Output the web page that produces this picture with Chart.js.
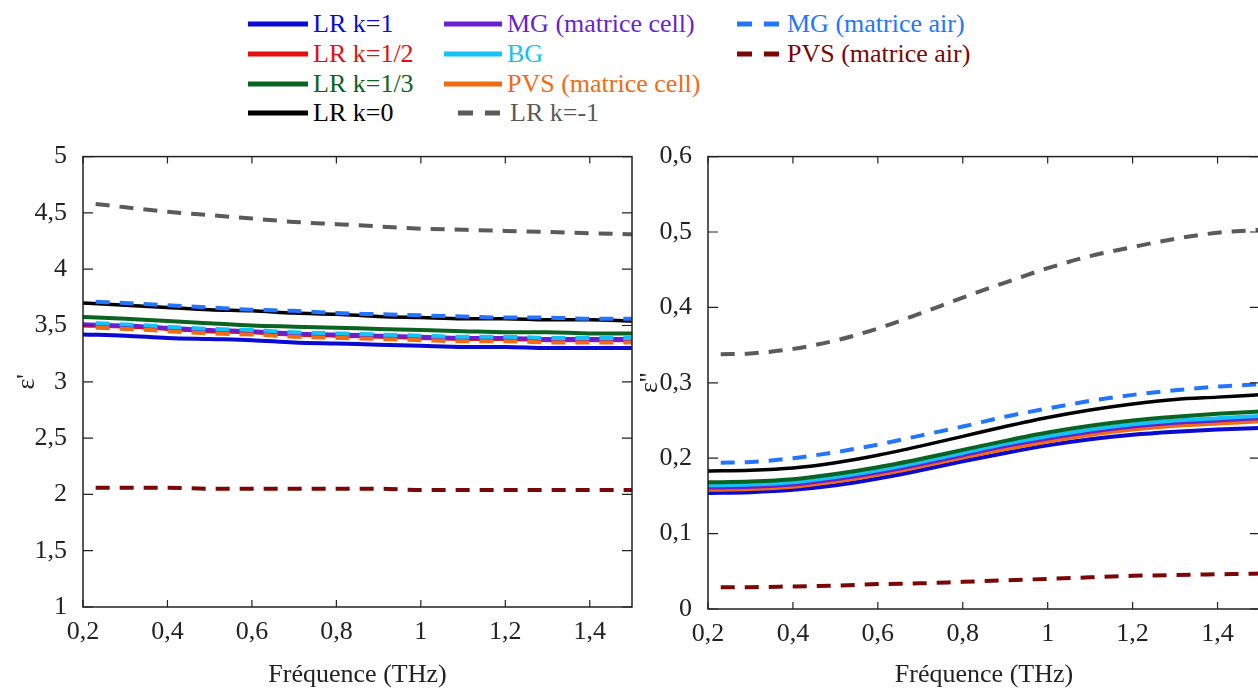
<!DOCTYPE html>
<html>
<head>
<meta charset="utf-8">
<script src="https://cdn.jsdelivr.net/npm/chart.js@4.4.1/dist/chart.umd.min.js"></script>
<style>
  html, body { margin: 0; padding: 0; background: #fff; overflow: hidden; }
  body { width: 1258px; height: 689px; position: relative; font-family: 'Liberation Serif', serif; }
  .box { position: absolute; }
  #legend .item { position: absolute; height: 30px; display: flex; align-items: center; font-size: 26px; white-space: nowrap; }
  #legend svg { display: block; }
</style>
</head>
<body>
<div id="legend"></div>
<div class="box" style="left:0;top:133px;width:640px;height:556px;"><canvas id="chartReel"></canvas></div>
<div class="box" style="left:640px;top:133px;width:622px;height:556px;"><canvas id="chartImag"></canvas></div>
<script>
// fréquences (THz)
const freq     = [0.2, 0.3, 0.4, 0.5, 0.6, 0.7, 0.8, 0.9, 1.0, 1.1, 1.2, 1.3, 1.4, 1.5];
const freqDash = [0.23, 0.3, 0.4, 0.5, 0.6, 0.7, 0.8, 0.9, 1.0, 1.1, 1.2, 1.3, 1.4, 1.5];

const xTicks = [0.2, 0.4, 0.6, 0.8, 1, 1.2, 1.4];
const yTicksReel = [1, 1.5, 2, 2.5, 3, 3.5, 4, 4.5, 5];
const yTicksImag = [0, 0.1, 0.2, 0.3, 0.4, 0.5, 0.6];

/* ==============================
   epsilon' (partie réelle)
================================ */
const reelLR1    = [3.42, 3.41, 3.39, 3.38, 3.37, 3.35, 3.34, 3.33, 3.32, 3.31, 3.31, 3.30, 3.30, 3.30];
const reelLR12   = [3.50, 3.49, 3.47, 3.45, 3.44, 3.42, 3.41, 3.40, 3.39, 3.38, 3.38, 3.37, 3.37, 3.37];
const reelLR13   = [3.575, 3.56, 3.54, 3.52, 3.50, 3.49, 3.48, 3.47, 3.46, 3.45, 3.44, 3.44, 3.43, 3.43];
const reelLR0    = [3.70, 3.68, 3.66, 3.64, 3.63, 3.61, 3.60, 3.58, 3.57, 3.56, 3.56, 3.55, 3.55, 3.54];
const reelMGcell = [3.51, 3.50, 3.48, 3.46, 3.45, 3.43, 3.42, 3.41, 3.40, 3.39, 3.39, 3.38, 3.38, 3.38];
const reelBG     = [3.52, 3.51, 3.49, 3.47, 3.46, 3.44, 3.43, 3.42, 3.41, 3.40, 3.40, 3.39, 3.39, 3.39];
const reelPVScell= [3.48, 3.47, 3.45, 3.43, 3.42, 3.40, 3.39, 3.38, 3.37, 3.36, 3.36, 3.35, 3.35, 3.35];
const reelLRm1   = [4.58, 4.55, 4.51, 4.48, 4.45, 4.42, 4.40, 4.38, 4.36, 4.35, 4.34, 4.33, 4.32, 4.31];
const reelMGair  = [3.71, 3.70, 3.68, 3.66, 3.64, 3.63, 3.61, 3.60, 3.59, 3.58, 3.57, 3.57, 3.56, 3.56];
const reelPVSair = [2.06, 2.06, 2.06, 2.05, 2.05, 2.05, 2.05, 2.05, 2.04, 2.04, 2.04, 2.04, 2.04, 2.04];

/* ==============================
   epsilon'' (partie imaginaire)
================================ */
const imagLR1    = [0.154, 0.155, 0.158, 0.164, 0.173, 0.184, 0.196, 0.207, 0.217, 0.225, 0.231, 0.235, 0.238, 0.240];
const imagLR12   = [0.160, 0.161, 0.164, 0.171, 0.180, 0.191, 0.203, 0.214, 0.225, 0.234, 0.241, 0.246, 0.249, 0.252];
const imagLR13   = [0.168, 0.169, 0.172, 0.179, 0.188, 0.199, 0.211, 0.223, 0.234, 0.243, 0.250, 0.255, 0.259, 0.262];
const imagLR0    = [0.183, 0.184, 0.187, 0.194, 0.204, 0.216, 0.229, 0.242, 0.254, 0.264, 0.272, 0.278, 0.281, 0.284];
const imagMGcell = [0.161, 0.162, 0.165, 0.172, 0.181, 0.192, 0.204, 0.216, 0.226, 0.235, 0.242, 0.247, 0.250, 0.253];
const imagBG     = [0.164, 0.165, 0.168, 0.175, 0.184, 0.195, 0.207, 0.219, 0.229, 0.238, 0.245, 0.250, 0.253, 0.256];
const imagPVScell= [0.158, 0.159, 0.162, 0.169, 0.178, 0.189, 0.201, 0.212, 0.222, 0.231, 0.238, 0.243, 0.246, 0.249];
const imagLRm1   = [0.338, 0.339, 0.345, 0.356, 0.372, 0.392, 0.413, 0.433, 0.452, 0.468, 0.480, 0.491, 0.499, 0.503];
const imagMGair  = [0.194, 0.195, 0.200, 0.208, 0.218, 0.230, 0.242, 0.255, 0.266, 0.276, 0.284, 0.290, 0.295, 0.298];
const imagPVSair = [0.029, 0.029, 0.030, 0.031, 0.033, 0.034, 0.036, 0.038, 0.040, 0.042, 0.044, 0.045, 0.046, 0.047];

const FONT = "'Liberation Serif', 'Times New Roman', serif";
const DASH = [14, 10];

const C = {
    lr1: '#0a0ad2', lr12: '#e31010', lr13: '#0b6322', lr0: '#000000',
    mgCell: '#6a1fd2', bg: '#14c3f5', pvsCell: '#f26a12',
    lrm1: '#5a5a5a', mgAir: '#2374ff', pvsAir: '#7a0606'
};

function pts(xs, ys) {
    return xs.map((x, i) => ({ x, y: ys[i] }));
}

function ds(label, xs, ys, color, dashed, width) {
    return {
        label,
        data: pts(xs, ys),
        borderColor: color,
        borderWidth: width || 4,
        borderDash: dashed ? DASH : [],
        pointRadius: 0,
        fill: false,
        cubicInterpolationMode: 'monotone'
    };
}

function fmt(v) {
    return String(Math.round(v * 100) / 100).replace('.', ',');
}

/* ==============================
   CADRE + GRADUATIONS INTERNES
================================ */
const cadre = {
    id: 'cadre',
    afterDraw(chart) {
        const { ctx, chartArea: a, scales: { x, y } } = chart;
        ctx.save();
        ctx.strokeStyle = '#222';
        ctx.lineWidth = 1.5;
        ctx.strokeRect(a.left, a.top, a.right - a.left, a.bottom - a.top);
        ctx.lineWidth = 1.2;
        ctx.beginPath();
        x.ticks.forEach(t => {
            const px = x.getPixelForValue(t.value);
            ctx.moveTo(px, a.bottom); ctx.lineTo(px, a.bottom - 7);
            ctx.moveTo(px, a.top); ctx.lineTo(px, a.top + 7);
        });
        y.ticks.forEach(t => {
            const py = y.getPixelForValue(t.value);
            ctx.moveTo(a.left, py); ctx.lineTo(a.left + 10, py);
            ctx.moveTo(a.right, py); ctx.lineTo(a.right - 10, py);
        });
        ctx.stroke();
        ctx.restore();
    }
};

function renderChart(canvasId, datasets, yMin, yMax, yTicks, yTitle, yWidth, xHeight, yTitleOpts, padRight) {
    const ctx = document.getElementById(canvasId);
    return new Chart(ctx, {
        type: 'line',
        data: { datasets },
        options: {
            responsive: true,
            maintainAspectRatio: false,
            animation: false,
            layout: { padding: { top: 8, right: padRight, left: 0, bottom: 0 } },
            plugins: { legend: { display: false }, tooltip: { enabled: false } },
            scales: {
                x: {
                    type: 'linear',
                    min: 0.2,
                    max: 1.5,
                    grid: { display: false },
                    border: { display: false },
                    afterBuildTicks: s => { s.ticks = xTicks.map(v => ({ value: v })); },
                    afterFit: s => { s.height = xHeight; },
                    ticks: {
                        color: '#222',
                        padding: 2,
                        maxRotation: 0,
                        font: { family: FONT, size: 26 },
                        callback: v => fmt(v)
                    },
                    title: {
                        display: true,
                        text: 'Fréquence (THz)',
                        color: '#222',
                        padding: { top: 0, bottom: 0 },
                        font: { family: FONT, size: 26, lineHeight: 1.1 }
                    }
                },
                y: {
                    type: 'linear',
                    min: yMin,
                    max: yMax,
                    grid: { display: false },
                    border: { display: false },
                    afterBuildTicks: s => { s.ticks = yTicks.map(v => ({ value: v })); },
                    afterFit: s => { s.width = yWidth; },
                    ticks: {
                        color: '#222',
                        padding: 8,
                        font: { family: FONT, size: 26 },
                        callback: v => fmt(v)
                    },
                    title: Object.assign({
                        display: true,
                        text: yTitle,
                        color: '#222'
                    }, yTitleOpts)
                }
            }
        },
        plugins: [cadre]
    });
}

// partie réelle
renderChart('chartReel', [
    ds('MG (matrice air)', freqDash, reelMGair, C.mgAir, true),
    ds('LR k=0', freq, reelLR0, C.lr0, false, 3.5),
    ds('LR k=1/3', freq, reelLR13, C.lr13, false),
    ds('BG', freqDash, reelBG, C.bg, true),
    ds('PVS (matrice cell)', freqDash, reelPVScell, C.pvsCell, true),
    ds('MG (matrice cell)', freq, reelMGcell, C.mgCell, false),
    ds('LR k=1/2', freq, reelLR12, C.lr12, false),
    ds('LR k=1', freq, reelLR1, C.lr1, false),
    ds('LR k=-1', freqDash, reelLRm1, C.lrm1, true),
    ds('PVS (matrice air)', freqDash, reelPVSair, C.pvsAir, true)
], 1, 5, yTicksReel, "ε'", 83, 82,
   { padding: { top: 12, bottom: 0 }, font: { family: FONT, size: 26, lineHeight: 1.2 } }, 8);

// partie imaginaire
renderChart('chartImag', [
    ds('MG (matrice air)', freqDash, imagMGair, C.mgAir, true),
    ds('LR k=0', freq, imagLR0, C.lr0, false, 3.5),
    ds('LR k=1/3', freq, imagLR13, C.lr13, false),
    ds('BG', freq, imagBG, C.bg, false),
    ds('MG (matrice cell)', freq, imagMGcell, C.mgCell, false),
    ds('PVS (matrice cell)', freq, imagPVScell, C.pvsCell, false),
    ds('LR k=1/2', freq, imagLR12, C.lr12, false),
    ds('LR k=1', freq, imagLR1, C.lr1, false),
    ds('LR k=-1', freqDash, imagLRm1, C.lrm1, true),
    ds('PVS (matrice air)', freqDash, imagPVSair, C.pvsAir, true)
], 0, 0.6, yTicksImag, "ε''", 68, 80,
   { padding: { top: 0, bottom: 0 }, font: { family: FONT, size: 26, lineHeight: 0.8 } }, 2);

/* ==============================
   LÉGENDE (HTML)
================================ */
const legendItems = [
    { text: 'LR k=1', color: C.lr1, dash: false, x: 248, len: 60, row: 0 },
    { text: 'LR k=1/2', color: C.lr12, dash: false, x: 248, len: 60, row: 1 },
    { text: 'LR k=1/3', color: C.lr13, dash: false, x: 248, len: 60, row: 2 },
    { text: 'LR k=0', color: C.lr0, dash: false, x: 248, len: 60, row: 3 },
    { text: 'MG (matrice cell)', color: C.mgCell, dash: false, x: 444, len: 58, row: 0 },
    { text: 'BG', color: C.bg, dash: false, x: 444, len: 58, row: 1 },
    { text: 'PVS (matrice cell)', color: C.pvsCell, dash: false, x: 444, len: 58, row: 2 },
    { text: 'LR k=-1', color: C.lrm1, dash: true, x: 458, len: 44, row: 3 },
    { text: 'MG (matrice air)', color: C.mgAir, dash: true, x: 737, len: 42, row: 0 },
    { text: 'PVS (matrice air)', color: C.pvsAir, dash: true, x: 737, len: 42, row: 1 }
];
const rowCenters = [24, 54, 84, 113];

const legend = document.getElementById('legend');
legendItems.forEach(it => {
    const el = document.createElement('div');
    el.className = 'item';
    el.style.left = it.x + 'px';
    el.style.top = (rowCenters[it.row] - 15) + 'px';
    el.style.color = it.color;
    const dashAttr = it.dash ? ' stroke-dasharray="15 12"' : '';
    el.innerHTML =
        `<svg width="${it.len}" height="10"><line x1="0" y1="5" x2="${it.len}" y2="5" stroke="${it.color}" stroke-width="5"${dashAttr}/></svg>` +
        `<span style="margin-left:${it.dash ? 8 : 5}px">${it.text}</span>`;
    legend.appendChild(el);
});
</script>
</body>
</html>
